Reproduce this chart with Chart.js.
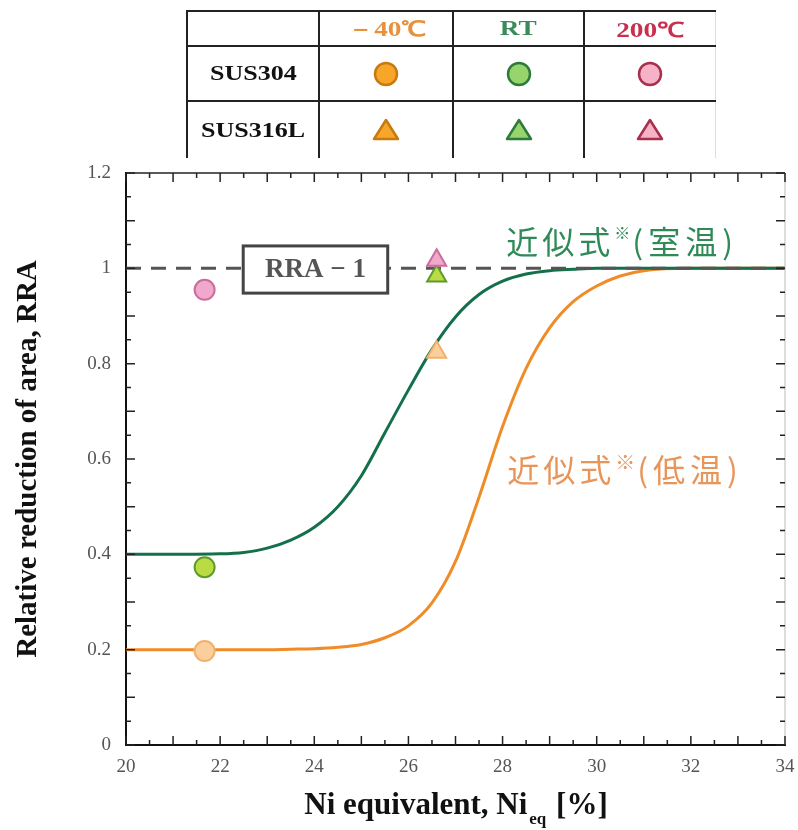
<!DOCTYPE html>
<html>
<head>
<meta charset="utf-8">
<script src="https://cdn.jsdelivr.net/npm/chart.js@4.4.0/dist/chart.umd.min.js"></script>
<style>
  body { margin: 0; background: #fff; }
  #wrap { position: relative; width: 798px; height: 830px; }
  #chart { position: absolute; left: 0; top: 0; }
  table.key { position: absolute; left: 186px; top: 10px; border-collapse: collapse;
    font-family: "Liberation Serif", serif; font-weight: bold; }
  table.key td { border: 2px solid #222; text-align: center; padding: 0; }
  table.key tr:last-child td { border-bottom: none; }
  table.key td.rowh { font-size: 20px; color: #111; }
  table.key th { border: 2px solid #222; font-size: 21px; height: 33px; padding: 0; }
  table.key th:last-child, table.key td:last-child { border-right: 1px solid #ddd; }
  table.key span { display: inline-block; transform: scaleX(1.3); }
  table.key svg { vertical-align: middle; }
</style>
</head>
<body>
<div id="wrap">
  <canvas id="chart" width="798" height="830"></canvas>
  <table class="key" id="key"></table>
</div>
<script>
// ---- data ----
const tempLabels = ['－40℃', 'RT', '200℃'];
const tempColors = ['#e8913c', '#3a8a5c', '#c8304e'];
const gradeLabels = ['SUS304', 'SUS316L'];

const sus304Ni = 21.67;
const sus304RRA = [0.197, 0.373, 0.955];   // -40C, RT, 200C
const sus316Ni = 26.6;
const sus316RRA = [0.824, 0.984, 1.017];

// approximate curves (近似式)
const curveNi  = [20, 21, 22, 22.5, 23, 23.5, 24, 24.5, 25, 25.5, 26, 26.5, 27, 27.5, 28, 28.5, 29, 29.5, 30, 30.5, 31, 32, 33, 34];
const curveRT  = [0.4, 0.4, 0.401, 0.404, 0.413, 0.43, 0.457, 0.5, 0.565, 0.655, 0.745, 0.83, 0.898, 0.945, 0.973, 0.988, 0.995, 0.998, 1, 1, 1, 1, 1, 1];
const curveLow = [0.2, 0.2, 0.2, 0.2, 0.2, 0.201, 0.202, 0.205, 0.211, 0.225, 0.25, 0.298, 0.385, 0.52, 0.668, 0.79, 0.875, 0.93, 0.963, 0.984, 0.995, 1, 1, 1];

const xTicks = [20, 22, 24, 26, 28, 30, 32, 34];
const yTicks = [0, 0.2, 0.4, 0.6, 0.8, 1, 1.2];

// marker styles per temperature (plot / table)
const markFill   = ['#fbcf9c', '#b9dc44', '#f0a8cc'];
const markBorder = ['#f2b06c', '#5e9a2a', '#cc6c9c'];
const keyFill    = ['#f7a62a', '#98d46c', '#f6b2c6'];
const keyBorder  = ['#c77a10', '#2e7a3a', '#a8304c'];

// ---- legend table ----
function markerSvg(shape, fill, stroke) {
  const s = shape === 'circle'
    ? '<circle cx="14" cy="14" r="11" fill="' + fill + '" stroke="' + stroke + '" stroke-width="2.5"/>'
    : '<polygon points="14,4 26,23 2,23" fill="' + fill + '" stroke="' + stroke + '" stroke-width="2.5" stroke-linejoin="round"/>';
  return '<svg width="28" height="28">' + s + '</svg>';
}
(function buildKey() {
  const widths = [130, 132, 129, 130];
  let html = '<tr><th style="width:' + widths[0] + 'px"></th>';
  tempLabels.forEach((t, i) => {
    html += '<th style="width:' + widths[i + 1] + 'px;color:' + tempColors[i] + '"><span>' + t + '</span></th>';
  });
  html += '</tr>';
  gradeLabels.forEach((g, r) => {
    html += '<tr style="height:' + (r === 0 ? 55 : 57) + 'px"><td class="rowh"><span>' + g + '</span></td>';
    for (let i = 0; i < 3; i++) {
      html += '<td>' + markerSvg(r === 0 ? 'circle' : 'triangle', keyFill[i], keyBorder[i]) + '</td>';
    }
    html += '</tr>';
  });
  document.getElementById('key').innerHTML = html;
})();

// ---- extra drawing: inward ticks, frame, box, labels, x title ----
const extras = {
  id: 'extras',
  afterDatasetsDraw(chart) {
    const { ctx, scales: { x, y } } = chart;
    // RRA box
    const bx0 = x.getPixelForValue(22.49), bx1 = x.getPixelForValue(25.56);
    const by0 = y.getPixelForValue(1.047), by1 = y.getPixelForValue(0.948);
    ctx.save();
    ctx.fillStyle = '#fff';
    ctx.fillRect(bx0, by0, bx1 - bx0, by1 - by0);
    ctx.strokeStyle = '#444';
    ctx.lineWidth = 3;
    ctx.strokeRect(bx0, by0, bx1 - bx0, by1 - by0);
    ctx.fillStyle = '#555';
    ctx.font = 'bold 27px "Liberation Serif", serif';
    ctx.textAlign = 'center';
    ctx.textBaseline = 'middle';
    ctx.fillText('RRA − 1', (bx0 + bx1) / 2, (by0 + by1) / 2 + 1);

    // curve labels
    function label(xv, yv, inner, color, markSize, markRise) {
      let px = x.getPixelForValue(xv);
      const py = y.getPixelForValue(yv);
      ctx.fillStyle = color;
      ctx.textAlign = 'left';
      ctx.textBaseline = 'middle';
      ctx.letterSpacing = '4px';
      ctx.font = '32px "Noto Sans CJK JP", sans-serif';
      ctx.fillText('近似式', px, py);
      px += ctx.measureText('近似式').width;
      ctx.letterSpacing = '0px';
      ctx.font = markSize + 'px "Noto Sans CJK JP", sans-serif';
      ctx.fillText('※', px, py - markRise);
      px += ctx.measureText('※').width + 2;
      ctx.letterSpacing = '5px';
      ctx.font = '32px "Noto Sans CJK JP", sans-serif';
      ctx.fillText('(' + inner + ')', px, py);
      ctx.letterSpacing = '0px';
    }
    label(28.08, 1.055, '室温', '#2f8a57', 16, 9);
    label(28.1, 0.577, '低温', '#e8955a', 20, 8);
    ctx.restore();
  },
  afterDraw(chart) {
    const { ctx, chartArea: a, scales: { x, y } } = chart;
    ctx.save();
    // top and right frame
    ctx.strokeStyle = '#222';
    ctx.lineWidth = 1.5;
    ctx.beginPath();
    ctx.moveTo(a.left, a.top); ctx.lineTo(a.right, a.top);
    ctx.stroke();
    ctx.strokeStyle = '#bbb';
    ctx.lineWidth = 1;
    ctx.beginPath();
    ctx.moveTo(a.right, a.top); ctx.lineTo(a.right, a.bottom);
    ctx.stroke();
    // inward ticks
    ctx.strokeStyle = '#222';
    ctx.lineWidth = 1.5;
    ctx.beginPath();
    for (let v = 20; v <= 34.001; v += 0.5) {
      const px = x.getPixelForValue(v);
      const len = Math.abs(v - Math.round(v)) < 1e-6 ? 9 : 5;
      ctx.moveTo(px, a.bottom); ctx.lineTo(px, a.bottom - len);
      ctx.moveTo(px, a.top); ctx.lineTo(px, a.top + len);
    }
    for (let i = 0; i <= 24; i++) {
      const py = y.getPixelForValue(i * 0.05);
      const len = i % 2 === 0 ? 9 : 5;
      ctx.moveTo(a.left, py); ctx.lineTo(a.left + len, py);
      ctx.moveTo(a.right, py); ctx.lineTo(a.right - len, py);
    }
    ctx.stroke();
    // x axis title with subscript
    const cx = 456;
    const base = 814;
    ctx.fillStyle = '#111';
    ctx.textBaseline = 'alphabetic';
    ctx.textAlign = 'left';
    const bigFont = 'bold 31px "Liberation Serif", serif';
    const subFont = 'bold 17px "Liberation Serif", serif';
    ctx.font = bigFont;
    const w1 = ctx.measureText('Ni equivalent, Ni').width;
    const w3 = ctx.measureText(' [%]').width;
    ctx.font = subFont;
    const w2 = ctx.measureText('eq').width + 4;
    let sx = cx - (w1 + w2 + w3) / 2;
    ctx.font = bigFont;
    ctx.fillText('Ni equivalent, Ni', sx, base);
    ctx.font = subFont;
    ctx.fillText('eq', sx + w1 + 2, base + 10);
    ctx.font = bigFont;
    ctx.fillText(' [%]', sx + w1 + w2, base);
    ctx.restore();
  }
};

const tickFont = { family: '"Liberation Serif", serif', size: 19 };
const fmt = v => String(Number(v.toFixed(1)));

new Chart(document.getElementById('chart').getContext('2d'), {
  type: 'scatter',
  data: {
    datasets: [
      {
        label: 'SUS304',
        data: sus304RRA.map(v => ({ x: sus304Ni, y: v })),
        pointStyle: 'circle',
        pointRadius: 10,
        pointBackgroundColor: markFill,
        pointBorderColor: markBorder,
        pointBorderWidth: 2,
        order: 0
      },
      {
        label: 'SUS316L',
        data: sus316RRA.map(v => ({ x: sus316Ni, y: v })),
        pointStyle: 'triangle',
        pointRadius: 11,
        pointBackgroundColor: markFill,
        pointBorderColor: markBorder,
        pointBorderWidth: 2,
        order: 0
      },
      {
        label: 'RRA = 1',
        data: [{ x: 20, y: 1 }, { x: 34, y: 1 }],
        showLine: true,
        borderColor: '#555',
        borderWidth: 3,
        borderDash: [15, 10],
        pointRadius: 0,
        order: 1
      },
      {
        label: '近似式(室温)',
        data: curveNi.map((v, i) => ({ x: v, y: curveRT[i] })),
        showLine: true,
        borderColor: '#13704a',
        borderWidth: 3,
        cubicInterpolationMode: 'monotone',
        pointRadius: 0,
        order: 2
      },
      {
        label: '近似式(低温)',
        data: curveNi.map((v, i) => ({ x: v, y: curveLow[i] })),
        showLine: true,
        borderColor: '#f08c28',
        borderWidth: 3,
        cubicInterpolationMode: 'monotone',
        pointRadius: 0,
        order: 2
      }
    ]
  },
  options: {
    responsive: false,
    animation: false,
    layout: { padding: { top: 173, right: 13, left: 0, bottom: 0 } },
    plugins: { legend: { display: false }, tooltip: { enabled: false } },
    scales: {
      x: {
        type: 'linear',
        min: 20, max: 34,
        afterBuildTicks: s => { s.ticks = xTicks.map(v => ({ value: v })); },
        ticks: { font: tickFont, color: '#555', padding: 11, maxRotation: 0, autoSkip: false, callback: fmt },
        grid: { display: false, drawTicks: false },
        border: { color: '#111', width: 2 },
        afterFit: s => { s.height = 85; s.paddingLeft = 0; s.paddingRight = 0; }
      },
      y: {
        min: 0, max: 1.2,
        afterBuildTicks: s => { s.ticks = yTicks.map(v => ({ value: v })); },
        ticks: { font: tickFont, color: '#555', padding: 15, callback: fmt },
        grid: { display: false, drawTicks: false },
        border: { color: '#111', width: 2 },
        title: {
          display: true,
          text: 'Relative reduction of area, RRA',
          font: { family: '"Liberation Serif", serif', size: 29, weight: 'bold' },
          color: '#111',
          padding: { top: 11, bottom: 0 }
        },
        afterFit: s => { s.width = 126; s.paddingTop = 0; s.paddingBottom = 0; }
      }
    }
  },
  plugins: [extras]
});
</script>
</body>
</html>
